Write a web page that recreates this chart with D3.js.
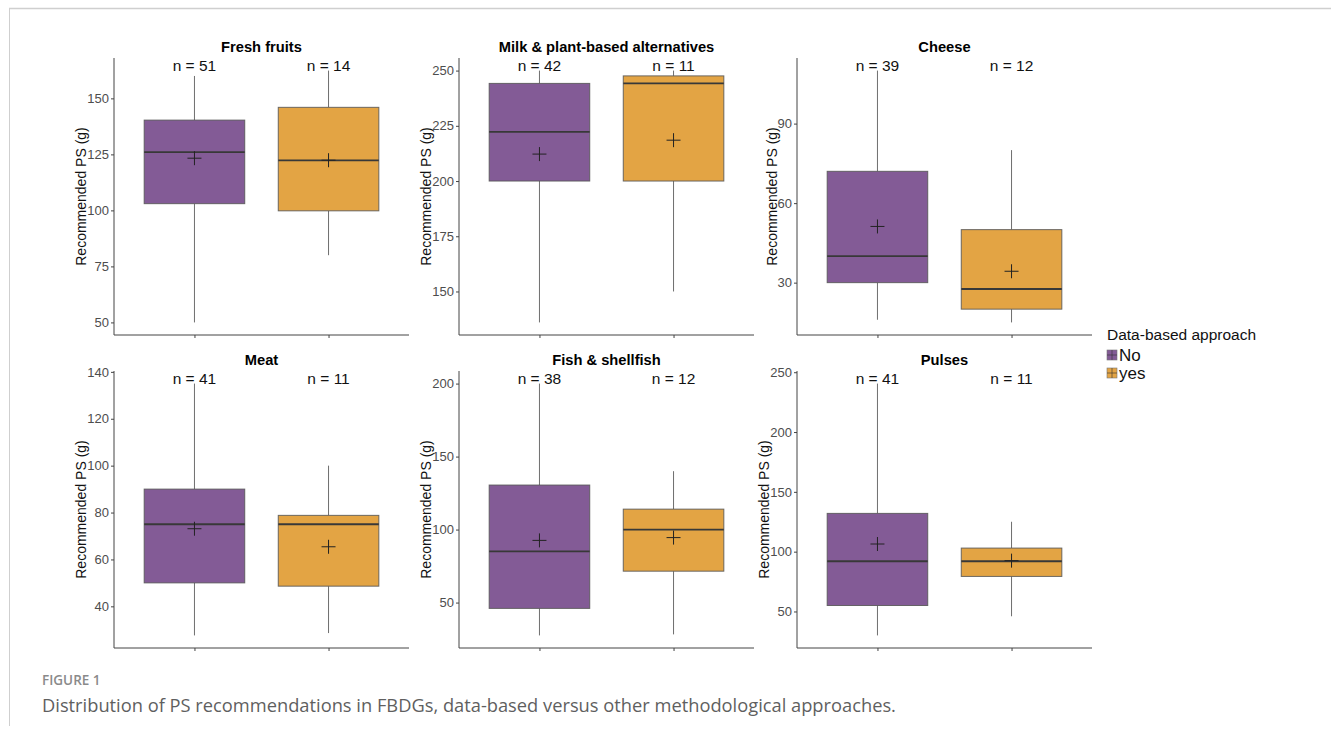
<!DOCTYPE html>
<html>
<head>
<meta charset="utf-8">
<script src="https://cdn.jsdelivr.net/npm/d3@7"></script>
<style>
  body { margin: 0; background: #fff; }
  svg { display: block; }
</style>
</head>
<body>
<script>
// panel titles, one per facet
const PANELS = [
  "Fresh fruits",
  "Milk & plant-based alternatives",
  "Cheese",
  "Meat",
  "Fish & shellfish",
  "Pulses"
]

const GROUPS = ["No", "yes"]
const COLORS = ["#835b96", "#e3a444"]

// values per panel as [No, yes]
const N_COUNTS = [[51, 14], [42, 11], [39, 12], [41, 11], [38, 12], [41, 11]]
const WHISK_LO = [[50, 80], [136, 150], [16, 15], [27.6, 28.6], [27.5, 28.2], [30, 46]]
const Q1 = [[103, 99.8], [200, 200], [30, 20], [50, 48.6], [46, 71.5], [55, 79.3]]
const MEDIAN = [[126, 122.3], [222.3, 244.2], [40, 27.6], [75, 75], [85, 100], [92, 92]]
const Q3 = [[140.3, 146], [244.2, 247.6], [72, 50], [90, 78.8], [130.5, 114], [132, 103]]
const WHISK_HI = [[160, 162.4], [250, 250], [110, 80], [135, 100], [200, 140], [240.5, 125]]
const MEANS = [[123.3, 122.4], [212.2, 218.5], [51.2, 34.3], [73.1, 65.4], [92.6, 94.5], [106.4, 92.5]]

const Y_TICKS = [
  [50, 75, 100, 125, 150],
  [150, 175, 200, 225, 250],
  [30, 60, 90],
  [40, 60, 80, 100, 120, 140],
  [50, 100, 150, 200],
  [50, 100, 150, 200, 250]
]

const m = { width: 1331, height: 735 }
const colLeft = [114, 459, 797]
const rowTop = [58, 371]
const pw = 295, ph = 277

const svg = d3.select("body").append("svg")
    .attr("width", m.width)
    .attr("height", m.height)

// page frame like the journal page
svg.append("line").attr("x1", 9).attr("x2", m.width).attr("y1", 8.5).attr("y2", 8.5)
    .attr("stroke", "#cfcfcf").attr("stroke-width", 1.5)
svg.append("line").attr("x1", 9.5).attr("x2", 9.5).attr("y1", 8).attr("y2", 726)
    .attr("stroke", "#cfcfcf").attr("stroke-width", 1)

const FONT = "Liberation Sans, Arial, sans-serif"

PANELS.forEach(function(title, i) {
  const left = colLeft[i % 3]
  const top = rowTop[Math.floor(i / 3)]
  const g = svg.append("g").attr("transform", `translate(${left},${top})`)

  // ggplot style 5% expansion of the data range
  const lo = d3.min(WHISK_LO[i]), hi = d3.max(WHISK_HI[i])
  const pad = (hi - lo) * 0.05
  const y = d3.scaleLinear().domain([lo - pad, hi + pad]).range([ph, 0])
  const x = d3.scalePoint().domain(GROUPS).range([0, pw]).padding(0.6)
  const bw = x.step() * 0.75

  // y axis
  const yAxis = g.append("g")
    .call(d3.axisLeft(y).tickValues(Y_TICKS[i]).tickSize(3).tickPadding(2))
  yAxis.select(".domain").attr("stroke", "#444").attr("d", `M0,0V${ph}`)
  yAxis.selectAll(".tick line").attr("stroke", "#444")
  yAxis.selectAll("text").attr("font-family", FONT).attr("font-size", 13).attr("fill", "#4d4d4d")

  // x axis, no labels
  const xAxis = g.append("g").attr("transform", `translate(0,${ph})`)
    .call(d3.axisBottom(x).tickSize(3).tickFormat(""))
  xAxis.select(".domain").attr("stroke", "#444").attr("d", `M0,0H${pw}`)
  xAxis.selectAll(".tick line").attr("stroke", "#444")

  const labW = d3.max(yAxis.selectAll("text").nodes(), n => n.getBBox().width)
  g.append("text")
    .attr("transform", `translate(${-labW - 6},${ph / 2}) rotate(-90)`)
    .attr("text-anchor", "middle")
    .attr("font-family", FONT).attr("font-size", 14).attr("fill", "#111")
    .text("Recommended PS (g)")

  g.append("text")
    .attr("x", pw * 0.5).attr("y", -6)
    .attr("text-anchor", "middle")
    .attr("font-family", FONT).attr("font-size", 14.7).attr("font-weight", "bold")
    .text(title)

  const rows = GROUPS.map(function(grp, j) {
    return {
      grp: grp, j: j, n: N_COUNTS[i][j],
      lo: WHISK_LO[i][j], q1: Q1[i][j], med: MEDIAN[i][j],
      q3: Q3[i][j], hi: WHISK_HI[i][j], mean: MEANS[i][j]
    }
  })

  const box = g.selectAll(".box").data(rows).enter().append("g").attr("class", "box")

  box.append("line")
    .attr("x1", d => x(d.grp)).attr("x2", d => x(d.grp))
    .attr("y1", d => y(d.hi)).attr("y2", d => y(d.q3))
    .attr("stroke", "#6e6e6e")
  box.append("line")
    .attr("x1", d => x(d.grp)).attr("x2", d => x(d.grp))
    .attr("y1", d => y(d.q1)).attr("y2", d => y(d.lo))
    .attr("stroke", "#6e6e6e")

  box.append("rect")
    .attr("x", d => x(d.grp) - bw / 2).attr("width", bw)
    .attr("y", d => y(d.q3)).attr("height", d => y(d.q1) - y(d.q3))
    .attr("fill", d => COLORS[d.j])
    .attr("stroke", "#555").attr("stroke-opacity", 0.85)

  box.append("line")
    .attr("x1", d => x(d.grp) - bw / 2).attr("x2", d => x(d.grp) + bw / 2)
    .attr("y1", d => y(d.med)).attr("y2", d => y(d.med))
    .attr("stroke", "#383838").attr("stroke-width", 1.8)

  // mean shown as a plus
  box.append("path")
    .attr("d", d => `M${x(d.grp) - 7},${y(d.mean)}h14M${x(d.grp)},${y(d.mean) - 7}v14`)
    .attr("stroke", "#222").attr("stroke-width", 1)

  box.append("text")
    .attr("x", d => x(d.grp)).attr("y", 12.5)
    .attr("text-anchor", "middle")
    .attr("font-family", FONT).attr("font-size", 15.5).attr("fill", "#111")
    .text(d => "n = " + d.n)
})

// legend
const lg = svg.append("g").attr("transform", "translate(1106,335)")
lg.append("text").attr("x", 1).attr("y", 5)
  .attr("font-family", FONT).attr("font-size", 15.5).attr("fill", "#111")
  .text("Data-based approach")
GROUPS.forEach(function(grp, j) {
  const ky = 20 + j * 18
  lg.append("rect").attr("x", 1).attr("y", ky - 5).attr("width", 10).attr("height", 10)
    .attr("fill", COLORS[j]).attr("stroke", "#777").attr("stroke-width", 0.6)
  lg.append("path").attr("d", `M1,${ky}h10M6,${ky - 5}v10`)
    .attr("stroke", "#333").attr("stroke-width", 0.6)
  lg.append("text").attr("x", 13).attr("y", ky + 6)
    .attr("font-family", FONT).attr("font-size", 17).attr("fill", "#111")
    .text(grp)
})

// caption
svg.append("text").attr("x", 42).attr("y", 685)
  .attr("font-family", "Open Sans, sans-serif").attr("font-size", 13.5)
  .attr("fill", "#8a8a8a").attr("font-weight", 600)
  .text("FIGURE 1")
svg.append("text").attr("x", 42).attr("y", 712)
  .attr("font-family", "Open Sans, sans-serif").attr("font-size", 18.3)
  .attr("fill", "#5f5f5f")
  .text("Distribution of PS recommendations in FBDGs, data-based versus other methodological approaches.")
</script>
</body>
</html>
